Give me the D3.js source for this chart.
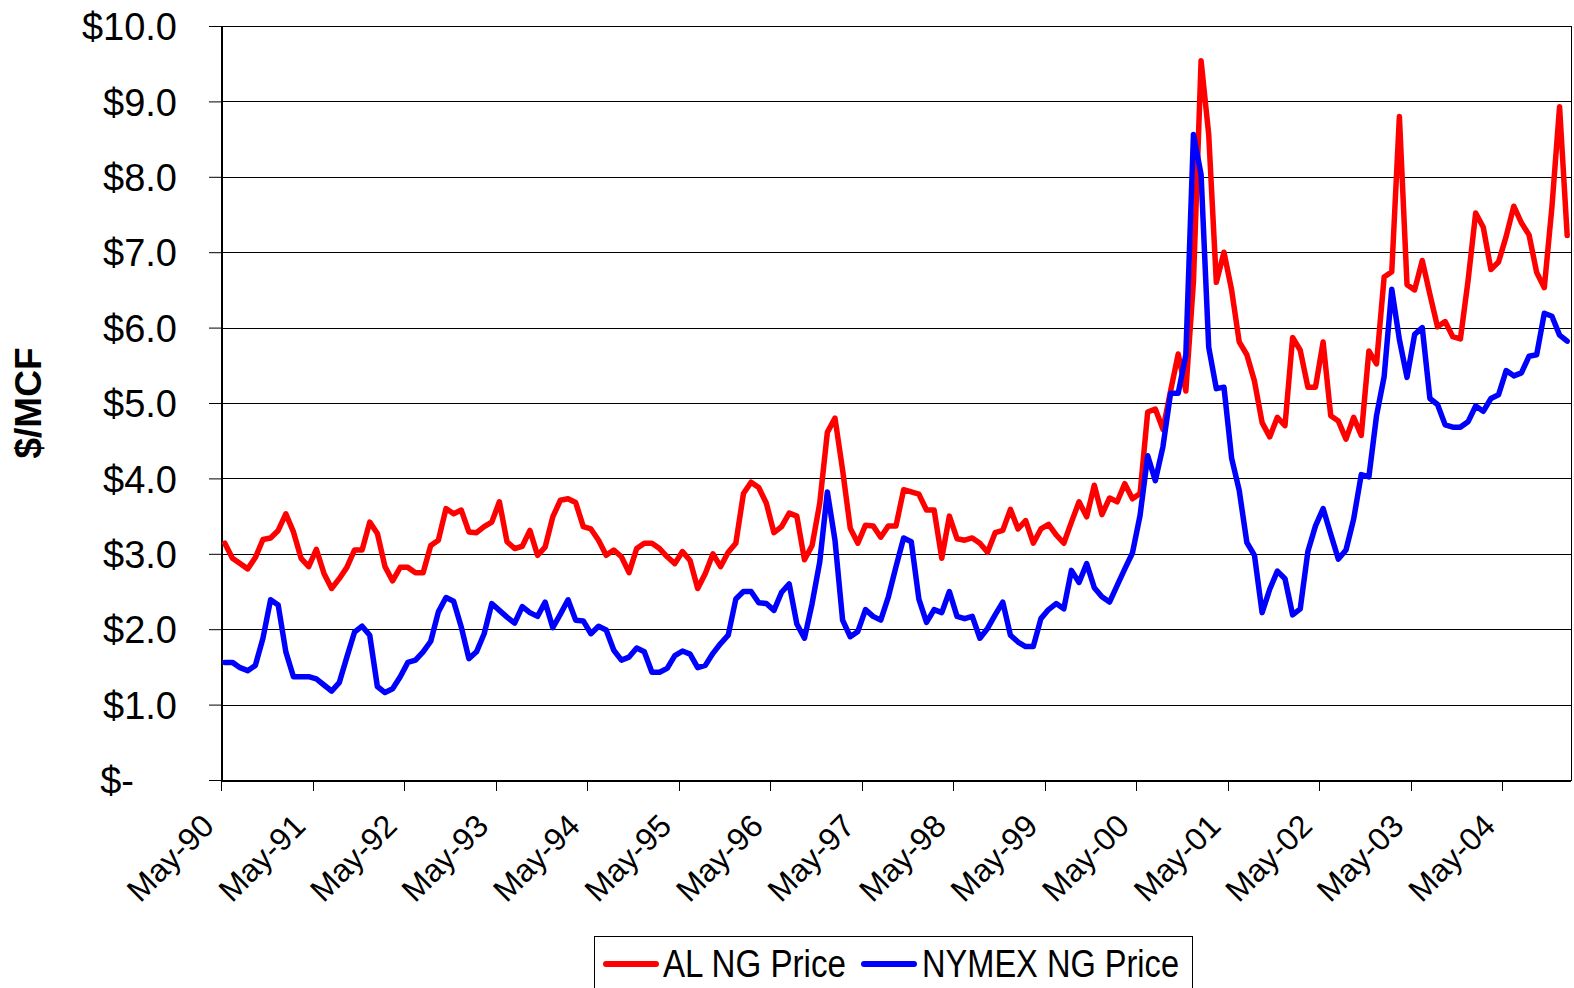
<!DOCTYPE html>
<meta charset="utf-8">
<title>AL NG Price vs NYMEX NG Price</title>
<style>

body {
  margin: 0;
  background: #fff;
}
text {
  font-family: Arial, "Liberation Sans", sans-serif;
  fill: #000;
}

</style>

<body>
<svg width="1574" height="988" id="svg"></svg>
<script src="https://d3js.org/d3.v7.min.js"></script>
<script>

// monthly prices, May-90 .. Jan-05, $/MCF
var alPrice = [
  3.14, 2.94, 2.87, 2.80, 2.95, 3.19, 3.21, 3.31, 3.53, 3.29, 2.94, 2.83,
  3.06, 2.74, 2.54, 2.67, 2.82, 3.05, 3.05, 3.42, 3.27, 2.83, 2.64, 2.82,
  2.82, 2.75, 2.75, 3.11, 3.18, 3.60, 3.53, 3.58, 3.29, 3.28, 3.36, 3.42,
  3.69, 3.16, 3.07, 3.10, 3.31, 2.98, 3.09, 3.49, 3.71, 3.73, 3.68, 3.36,
  3.33, 3.18, 2.98, 3.05, 2.96, 2.75, 3.07, 3.14, 3.14, 3.07, 2.96, 2.87,
  3.03, 2.91, 2.54, 2.74, 3.00, 2.83, 3.02, 3.14, 3.80, 3.95, 3.88, 3.67,
  3.28, 3.36, 3.54, 3.50, 2.92, 3.11, 3.67, 4.61, 4.80, 4.11, 3.34, 3.14,
  3.38, 3.37, 3.22, 3.37, 3.37, 3.85, 3.82, 3.79, 3.58, 3.58, 2.94, 3.50,
  3.20, 3.18, 3.21, 3.14, 3.02, 3.28, 3.31, 3.59, 3.33, 3.44, 3.14, 3.33,
  3.39, 3.25, 3.14, 3.42, 3.69, 3.49, 3.91, 3.52, 3.74, 3.69, 3.93, 3.73,
  3.80, 4.88, 4.92, 4.65, 5.16, 5.65, 5.16, 6.61, 9.54, 8.56, 6.60, 7.00,
  6.50, 5.81, 5.64, 5.29, 4.74, 4.55, 4.81, 4.70, 5.87, 5.70, 5.21, 5.21,
  5.81, 4.83, 4.76, 4.52, 4.81, 4.57, 5.69, 5.52, 6.67, 6.74, 8.80, 6.57,
  6.50, 6.89, 6.44, 6.01, 6.08, 5.88, 5.85, 6.62, 7.52, 7.33, 6.77, 6.87,
  7.21, 7.61, 7.39, 7.23, 6.73, 6.53, 7.60, 8.93, 7.22
];

var nymexPrice = [
  1.56, 1.56, 1.49, 1.45, 1.52, 1.88, 2.39, 2.32, 1.70, 1.37, 1.37, 1.37,
  1.34, 1.26, 1.18, 1.29, 1.63, 1.96, 2.04, 1.92, 1.24, 1.16, 1.21, 1.37,
  1.56, 1.59, 1.70, 1.84, 2.23, 2.42, 2.37, 2.03, 1.61, 1.70, 1.94, 2.34,
  2.25, 2.16, 2.08, 2.30, 2.22, 2.17, 2.36, 2.02, 2.20, 2.39, 2.12, 2.11,
  1.94, 2.04, 1.99, 1.72, 1.59, 1.63, 1.75, 1.70, 1.43, 1.43, 1.48, 1.65,
  1.71, 1.67, 1.49, 1.52, 1.68, 1.81, 1.92, 2.40, 2.50, 2.50, 2.35, 2.34,
  2.25, 2.49, 2.60, 2.07, 1.88, 2.34, 2.89, 3.82, 3.18, 2.12, 1.90, 1.97,
  2.26, 2.17, 2.12, 2.43, 2.83, 3.21, 3.16, 2.40, 2.09, 2.26, 2.22, 2.50,
  2.17, 2.14, 2.17, 1.88, 2.01, 2.19, 2.36, 1.92, 1.83, 1.77, 1.77, 2.14,
  2.26, 2.34, 2.27, 2.78, 2.62, 2.87, 2.55, 2.43, 2.36, 2.58, 2.80, 3.01,
  3.51, 4.30, 3.97, 4.42, 5.13, 5.13, 5.64, 8.56, 8.03, 5.74, 5.19, 5.21,
  4.27, 3.84, 3.15, 2.98, 2.22, 2.53, 2.77, 2.67, 2.19, 2.27, 3.03, 3.37,
  3.60, 3.26, 2.93, 3.05, 3.46, 4.05, 4.02, 4.83, 5.35, 6.51, 5.84, 5.34,
  5.91, 6.00, 5.06, 4.98, 4.71, 4.68, 4.68, 4.75, 4.96, 4.89, 5.06, 5.11,
  5.43, 5.36, 5.40, 5.62, 5.64, 6.19, 6.15, 5.90, 5.82
];

var months = d3.timeMonth.range(new Date(1990, 4, 1), new Date(2005, 1, 1));

var tickLabels = ["May-90", "May-91", "May-92", "May-93", "May-94", "May-95", "May-96",
                  "May-97", "May-98", "May-99", "May-00", "May-01", "May-02", "May-03", "May-04"];

var yTicks = [0, 1, 2, 3, 4, 5, 6, 7, 8, 9, 10];

var series = [
  {name: "AL NG Price", values: alPrice, color: "#ff0000"},
  {name: "NYMEX NG Price", values: nymexPrice, color: "#0000ff"}
];

var svg = d3.select("svg"),
    plotL = 221, plotR = 1571, plotT = 26, plotB = 780;

var x = d3.scaleBand().domain(d3.range(months.length)).range([plotL, plotR]);
// category boundaries, for the tick marks
var xEdge = d3.scaleLinear().domain([0, months.length]).range([plotL, plotR]);
var y = d3.scaleLinear().domain([0, 10]).range([plotB, plotT]);

function cx(i) { return x(i) + x.bandwidth() / 2; }

// gridlines
svg.append("g")
  .selectAll("line")
  .data(yTicks)
  .enter().append("line")
    .attr("x1", plotL)
    .attr("x2", plotR)
    .attr("y1", function(d) { return Math.round(y(d)) + 0.5; })
    .attr("y2", function(d) { return Math.round(y(d)) + 0.5; })
    .attr("stroke", "#000")
    .attr("stroke-width", 1);

// y axis
var yAxis = svg.append("g")
    .attr("transform", "translate(" + plotL + ",0)")
    .call(d3.axisLeft(y)
      .tickValues(yTicks)
      .tickSize(12)
      .tickPadding(32)
      .tickFormat(function(d) { return d === 0 ? "$-" : "$" + d.toFixed(1); }));
yAxis.select(".domain").remove();
yAxis.selectAll(".tick line").attr("stroke", "#000");
yAxis.selectAll(".tick text")
    .attr("font-size", "38px")
    .attr("font-family", "Arial, 'Liberation Sans', sans-serif")
    .attr("dy", "0.36em")
    .attr("dx", function(d) { return d === 0 ? -43 : 0; });

// x ticks at every May
var tickIdx = tickLabels.map(function(d, k) { return k * 12; });

svg.append("g")
  .selectAll("line")
  .data(tickIdx)
  .enter().append("line")
    .attr("x1", function(d) { return Math.round(xEdge(d)) + 0.5; })
    .attr("x2", function(d) { return Math.round(xEdge(d)) + 0.5; })
    .attr("y1", plotB)
    .attr("y2", plotB + 11)
    .attr("stroke", "#000");

svg.append("g")
  .selectAll("text")
  .data(tickLabels)
  .enter().append("text")
    .attr("transform", function(d, k) {
      return "translate(" + (cx(tickIdx[k]) - 9) + "," + (plotB + 48) + ") rotate(-45)";
    })
    .attr("text-anchor", "end")
    .attr("font-size", "32px")
    .text(function(d) { return d; });

// frame
svg.append("rect")
    .attr("x", plotL + 0.5)
    .attr("y", plotT + 0.5)
    .attr("width", plotR - plotL)
    .attr("height", plotB - plotT)
    .attr("fill", "none")
    .attr("stroke", "#000");
svg.append("path")
    .attr("d", "M" + (plotL + 1) + "," + plotT + "V" + (plotB + 1) + "H" + plotR)
    .attr("fill", "none")
    .attr("stroke", "#000")
    .attr("stroke-width", 2);

// lines
var line = d3.line()
    .x(function(d, i) { return cx(i); })
    .y(function(d) { return y(d); });

svg.append("g")
  .selectAll("path")
  .data(series)
  .enter().append("path")
    .attr("d", function(d) { return line(d.values); })
    .attr("fill", "none")
    .attr("stroke", function(d) { return d.color; })
    .attr("stroke-width", 5.5)
    .attr("stroke-linejoin", "round")
    .attr("stroke-linecap", "round");

// y title
svg.append("text")
    .attr("transform", "translate(41,403) rotate(-90)")
    .attr("text-anchor", "middle")
    .attr("font-size", "37px")
    .attr("font-weight", "bold")
    .text("$/MCF");

// legend
var legend = svg.append("g");
legend.append("rect")
    .attr("x", 594.5)
    .attr("y", 936.5)
    .attr("width", 598)
    .attr("height", 70)
    .attr("fill", "#fff")
    .attr("stroke", "#000");

var legendPos = [
  {lx: 606, tx: 663, w: 183},
  {lx: 864, tx: 922, w: 257}
];

var item = legend.selectAll("g")
    .data(series)
    .enter().append("g");

item.append("line")
    .attr("x1", function(d, i) { return legendPos[i].lx; })
    .attr("x2", function(d, i) { return legendPos[i].lx + 50; })
    .attr("y1", 964)
    .attr("y2", 964)
    .attr("stroke", function(d) { return d.color; })
    .attr("stroke-width", 6)
    .attr("stroke-linecap", "round");

item.append("text")
    .attr("x", function(d, i) { return legendPos[i].tx; })
    .attr("y", 977)
    .attr("font-size", "38px")
    .attr("textLength", function(d, i) { return legendPos[i].w; })
    .attr("lengthAdjust", "spacingAndGlyphs")
    .text(function(d) { return d.name; });

</script>
</body>
